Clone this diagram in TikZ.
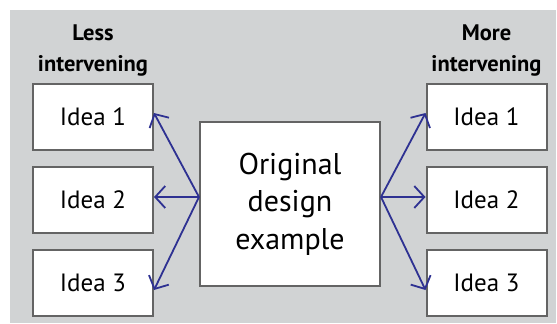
\documentclass[tikz,border=0pt]{standalone}
\usepackage{fontspec}
\setmainfont{PT Sans}
\usepackage{xcolor}
\definecolor{panelgray}{RGB}{209,211,212}
\definecolor{boxgray}{RGB}{100,100,100}
\definecolor{arrowblue}{RGB}{46,49,146}
\usetikzlibrary{arrows.meta,positioning}

\begin{document}
\begin{tikzpicture}[
  x=1pt, y=-1pt,
  node distance=15pt,
  idea/.style={rectangle, minimum width=120pt, minimum height=66pt,
               align=center, fill=white, draw=boxgray, line width=2pt,
               font=\fontsize{25}{30}\selectfont},
  origbox/.style={rectangle, minimum width=180pt, minimum height=164pt,
               align=center, fill=white, draw=boxgray, line width=2pt,
               font=\fontsize{30}{37.5}\selectfont},
  heading/.style={align=center, inner sep=0pt,
               font=\fontsize{22.5}{31}\selectfont\bfseries},
  arr/.style={-{Straight Barb[length=10pt,width=22pt]}, line width=1.8pt,
              color=arrowblue}
]

\useasboundingbox (0,0) rectangle (557,324);
\fill[panelgray] (10,10) rectangle (556,323);

%% centre box
\node[origbox] (orig) at (290,204) {Original\\design\\example};

%% left column
\node[idea] (l1) at (93,117) {Idea 1};
\node[idea, below=of l1] (l2) {Idea 2};
\node[idea, below=of l2] (l3) {Idea 3};
\node[heading, anchor=south] (lhead) at (93,76) {Less\\intervening};

%% right column
\node[idea] (r1) at (486.5,117) {Idea 1};
\node[idea, below=of r1] (r2) {Idea 2};
\node[idea, below=of r2] (r3) {Idea 3};
\node[heading, anchor=south] (rhead) at (486.5,76) {More\\intervening};

%% arrows
\draw[arr] ([yshift=7pt]orig.west) -- ([yshift=4pt]l1.east);
\draw[arr] ([yshift=7pt]orig.west) -- ([yshift=3pt]l2.east);
\draw[arr] ([yshift=7pt]orig.west) -- ([yshift=-7pt]l3.east);
\draw[arr] ([yshift=7pt]orig.east) -- ([yshift=4pt]r1.west);
\draw[arr] ([yshift=7pt]orig.east) -- ([yshift=3pt]r2.west);
\draw[arr] ([yshift=7pt]orig.east) -- ([yshift=-7pt]r3.west);

\end{tikzpicture}
\end{document}
